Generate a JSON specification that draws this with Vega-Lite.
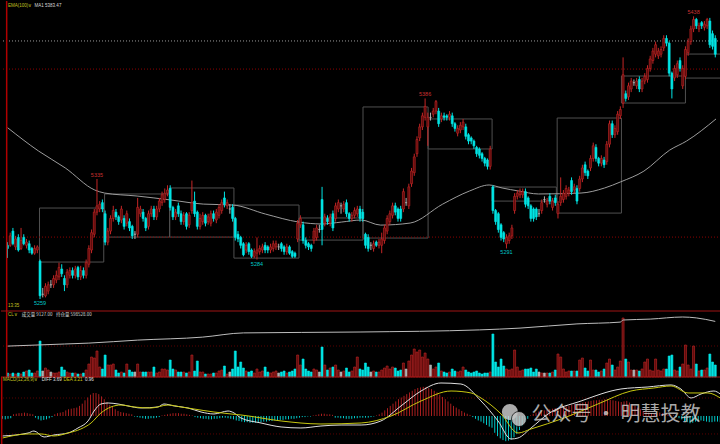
{
"$schema":"https://vega.github.io/schema/vega-lite/v6.json",
"background":"#000000",
"padding":0,
"spacing":0,
"bounds":"flush",
"config":{"view":{"stroke":null},"font":"Liberation Sans"},
"datasets":{
"bars":[
{"k":0,"o":5293,"h":5295,"l":5285,"c":5291,"v":1600,"m":-0.5},
{"k":1,"o":5293,"h":5301,"l":5292,"c":5299,"v":1200,"m":-0.6},
{"k":2,"o":5302,"h":5304,"l":5293,"c":5294,"v":1600,"m":-0.5},
{"k":3,"o":5292,"h":5299,"l":5290,"c":5297,"v":1200,"m":-0.4},
{"k":4,"o":5298,"h":5300,"l":5289,"c":5290,"v":1600,"m":0.3},
{"k":5,"o":5291,"h":5304,"l":5290,"c":5296,"v":1200,"m":0.4},
{"k":6,"o":5298,"h":5300,"l":5293,"c":5294,"v":2000,"m":0.5},
{"k":7,"o":5293,"h":5297,"l":5291,"c":5295,"v":2400,"m":0.5},
{"k":8,"o":5294,"h":5296,"l":5288,"c":5290,"v":2800,"m":0.6},
{"k":9,"o":5291,"h":5292,"l":5287,"c":5288,"v":1600,"m":0.5},
{"k":10,"o":5288,"h":5293,"l":5287,"c":5291,"v":1600,"m":0.4},
{"k":11,"o":5290,"h":5293,"l":5288,"c":5292,"v":2400,"m":0.3},
{"k":12,"o":5283,"h":5284,"l":5259,"c":5261,"v":14400,"m":-0.3},
{"k":13,"o":5262,"h":5266,"l":5260,"c":5262,"v":2400,"m":-0.6},
{"k":14,"o":5261,"h":5269,"l":5260,"c":5267,"v":3600,"m":-0.8},
{"k":15,"o":5264,"h":5270,"l":5262,"c":5268,"v":2800,"m":-0.7},
{"k":16,"o":5268,"h":5271,"l":5266,"c":5268,"v":2000,"m":-0.6},
{"k":17,"o":5268,"h":5274,"l":5266,"c":5272,"v":1600,"m":-0.4},
{"k":18,"o":5271,"h":5277,"l":5269,"c":5274,"v":1600,"m":-0.2},
{"k":19,"o":5273,"h":5282,"l":5271,"c":5279,"v":2000,"m":0.3},
{"k":20,"o":5278,"h":5281,"l":5273,"c":5275,"v":4000,"m":0.5},
{"k":21,"o":5272,"h":5274,"l":5264,"c":5268,"v":2800,"m":0.6},
{"k":22,"o":5268,"h":5278,"l":5266,"c":5276,"v":2000,"m":0.7},
{"k":23,"o":5274,"h":5279,"l":5272,"c":5277,"v":1600,"m":1.0},
{"k":24,"o":5277,"h":5279,"l":5272,"c":5274,"v":1600,"m":1.2},
{"k":25,"o":5274,"h":5280,"l":5272,"c":5278,"v":1600,"m":1.3},
{"k":26,"o":5279,"h":5280,"l":5271,"c":5273,"v":1200,"m":1.4},
{"k":27,"o":5273,"h":5280,"l":5271,"c":5277,"v":1200,"m":1.5},
{"k":28,"o":5277,"h":5279,"l":5272,"c":5274,"v":1600,"m":1.8},
{"k":29,"o":5274,"h":5284,"l":5272,"c":5282,"v":2800,"m":2.2},
{"k":30,"o":5281,"h":5293,"l":5279,"c":5291,"v":5200,"m":2.8},
{"k":31,"o":5290,"h":5303,"l":5288,"c":5301,"v":8000,"m":3.3},
{"k":32,"o":5300,"h":5316,"l":5298,"c":5314,"v":7600,"m":3.8},
{"k":33,"o":5314,"h":5335,"l":5312,"c":5318,"v":10400,"m":4.1},
{"k":34,"o":5316,"h":5321,"l":5314,"c":5319,"v":4000,"m":4.1},
{"k":35,"o":5320,"h":5322,"l":5314,"c":5316,"v":3200,"m":3.9},
{"k":36,"o":5313,"h":5315,"l":5293,"c":5295,"v":8800,"m":3.5},
{"k":37,"o":5295,"h":5304,"l":5293,"c":5302,"v":4800,"m":3.0},
{"k":38,"o":5302,"h":5312,"l":5300,"c":5310,"v":4800,"m":2.5},
{"k":39,"o":5310,"h":5318,"l":5308,"c":5315,"v":5200,"m":2.0},
{"k":40,"o":5314,"h":5316,"l":5309,"c":5311,"v":2800,"m":1.6},
{"k":41,"o":5311,"h":5312,"l":5306,"c":5308,"v":1600,"m":1.2},
{"k":42,"o":5309,"h":5318,"l":5307,"c":5316,"v":2000,"m":0.9},
{"k":43,"o":5310,"h":5312,"l":5303,"c":5305,"v":1600,"m":0.7},
{"k":44,"o":5307,"h":5315,"l":5305,"c":5313,"v":5200,"m":0.6},
{"k":45,"o":5308,"h":5310,"l":5302,"c":5304,"v":2800,"m":0.5},
{"k":46,"o":5305,"h":5306,"l":5297,"c":5299,"v":2000,"m":0.4},
{"k":47,"o":5300,"h":5302,"l":5297,"c":5300,"v":2000,"m":0.3},
{"k":48,"o":5300,"h":5323,"l":5298,"c":5317,"v":5200,"m":-0.1},
{"k":49,"o":5313,"h":5318,"l":5311,"c":5316,"v":2000,"m":-0.2},
{"k":50,"o":5314,"h":5316,"l":5308,"c":5310,"v":2000,"m":-0.3},
{"k":51,"o":5310,"h":5311,"l":5302,"c":5304,"v":2000,"m":-0.4},
{"k":52,"o":5305,"h":5315,"l":5303,"c":5313,"v":2000,"m":-0.5},
{"k":53,"o":5313,"h":5318,"l":5311,"c":5316,"v":2000,"m":-0.5},
{"k":54,"o":5316,"h":5318,"l":5309,"c":5311,"v":4000,"m":-0.4},
{"k":55,"o":5311,"h":5318,"l":5309,"c":5316,"v":1600,"m":-0.4},
{"k":56,"o":5316,"h":5323,"l":5314,"c":5321,"v":2000,"m":-0.3},
{"k":57,"o":5320,"h":5327,"l":5318,"c":5325,"v":3200,"m":-0.2},
{"k":58,"o":5322,"h":5329,"l":5320,"c":5326,"v":3200,"m":0.1},
{"k":59,"o":5326,"h":5331,"l":5324,"c":5328,"v":2800,"m":0.2},
{"k":60,"o":5329,"h":5331,"l":5315,"c":5317,"v":6800,"m":0.3},
{"k":61,"o":5317,"h":5318,"l":5309,"c":5311,"v":3200,"m":0.4},
{"k":62,"o":5311,"h":5316,"l":5309,"c":5314,"v":2800,"m":0.5},
{"k":63,"o":5318,"h":5320,"l":5311,"c":5313,"v":2000,"m":0.5},
{"k":64,"o":5313,"h":5315,"l":5306,"c":5308,"v":2000,"m":0.5},
{"k":65,"o":5308,"h":5314,"l":5306,"c":5312,"v":2000,"m":0.4},
{"k":66,"o":5313,"h":5314,"l":5303,"c":5305,"v":1600,"m":0.4},
{"k":67,"o":5306,"h":5314,"l":5304,"c":5312,"v":2000,"m":0.3},
{"k":68,"o":5315,"h":5334,"l":5313,"c":5320,"v":8800,"m":0.2},
{"k":69,"o":5321,"h":5327,"l":5311,"c":5313,"v":2400,"m":0.1},
{"k":70,"o":5314,"h":5315,"l":5303,"c":5305,"v":6400,"m":-0.2},
{"k":71,"o":5305,"h":5313,"l":5303,"c":5310,"v":2000,"m":-0.3},
{"k":72,"o":5308,"h":5314,"l":5306,"c":5312,"v":2000,"m":-0.4},
{"k":73,"o":5312,"h":5313,"l":5305,"c":5307,"v":1200,"m":-0.5},
{"k":74,"o":5308,"h":5313,"l":5306,"c":5311,"v":1200,"m":-0.5},
{"k":75,"o":5307,"h":5315,"l":5305,"c":5313,"v":1200,"m":-0.6},
{"k":76,"o":5313,"h":5315,"l":5308,"c":5310,"v":1600,"m":-0.6},
{"k":77,"o":5309,"h":5316,"l":5307,"c":5314,"v":1600,"m":-0.5},
{"k":78,"o":5312,"h":5319,"l":5310,"c":5317,"v":2400,"m":-0.5},
{"k":79,"o":5315,"h":5322,"l":5313,"c":5320,"v":2800,"m":-0.4},
{"k":80,"o":5323,"h":5327,"l":5317,"c":5319,"v":4400,"m":-0.3},
{"k":81,"o":5318,"h":5322,"l":5316,"c":5320,"v":1200,"m":-0.3},
{"k":82,"o":5316,"h":5319,"l":5313,"c":5316,"v":2000,"m":-0.4},
{"k":83,"o":5317,"h":5319,"l":5308,"c":5310,"v":3200,"m":-0.5},
{"k":84,"o":5310,"h":5311,"l":5296,"c":5298,"v":10400,"m":-0.6},
{"k":85,"o":5300,"h":5302,"l":5295,"c":5297,"v":4000,"m":-0.8},
{"k":86,"o":5298,"h":5299,"l":5291,"c":5293,"v":6000,"m":-0.9},
{"k":87,"o":5294,"h":5295,"l":5286,"c":5287,"v":3600,"m":-1.0},
{"k":88,"o":5290,"h":5295,"l":5288,"c":5293,"v":2400,"m":-1.1},
{"k":89,"o":5294,"h":5295,"l":5287,"c":5289,"v":2000,"m":-1.1},
{"k":90,"o":5290,"h":5291,"l":5285,"c":5286,"v":2400,"m":-1.2},
{"k":91,"o":5286,"h":5291,"l":5285,"c":5289,"v":1600,"m":-1.2},
{"k":92,"o":5288,"h":5298,"l":5284,"c":5290,"v":3200,"m":-1.2},
{"k":93,"o":5289,"h":5293,"l":5287,"c":5291,"v":2000,"m":-1.1},
{"k":94,"o":5290,"h":5294,"l":5288,"c":5292,"v":2400,"m":-1.1},
{"k":95,"o":5293,"h":5295,"l":5288,"c":5290,"v":4000,"m":-1.0},
{"k":96,"o":5292,"h":5293,"l":5288,"c":5290,"v":2000,"m":-1.0},
{"k":97,"o":5290,"h":5294,"l":5288,"c":5292,"v":1600,"m":-0.9},
{"k":98,"o":5291,"h":5296,"l":5289,"c":5294,"v":2000,"m":-0.9},
{"k":99,"o":5292,"h":5296,"l":5290,"c":5294,"v":2400,"m":-0.8},
{"k":100,"o":5292,"h":5294,"l":5290,"c":5292,"v":1600,"m":-0.8},
{"k":101,"o":5294,"h":5295,"l":5289,"c":5291,"v":2000,"m":-0.7},
{"k":102,"o":5292,"h":5293,"l":5287,"c":5289,"v":2400,"m":-0.7},
{"k":103,"o":5289,"h":5294,"l":5287,"c":5292,"v":1600,"m":-0.6},
{"k":104,"o":5292,"h":5293,"l":5287,"c":5288,"v":2000,"m":-0.6},
{"k":105,"o":5289,"h":5290,"l":5285,"c":5286,"v":2400,"m":-0.5},
{"k":106,"o":5288,"h":5289,"l":5285,"c":5286,"v":3200,"m":-0.5},
{"k":107,"o":5297,"h":5309,"l":5295,"c":5307,"v":8800,"m":-0.4},
{"k":108,"o":5306,"h":5312,"l":5304,"c":5310,"v":4800,"m":-0.3},
{"k":109,"o":5306,"h":5308,"l":5294,"c":5296,"v":7200,"m":-0.2},
{"k":110,"o":5296,"h":5298,"l":5291,"c":5293,"v":3200,"m":-0.2},
{"k":111,"o":5294,"h":5295,"l":5290,"c":5292,"v":2400,"m":-0.1},
{"k":112,"o":5293,"h":5294,"l":5289,"c":5291,"v":2000,"m":-0.1},
{"k":113,"o":5296,"h":5304,"l":5294,"c":5302,"v":3200,"m":0.1},
{"k":114,"o":5298,"h":5306,"l":5296,"c":5304,"v":2800,"m":0.2},
{"k":115,"o":5303,"h":5306,"l":5301,"c":5303,"v":2000,"m":0.3},
{"k":116,"o":5322,"h":5330,"l":5293,"c":5303,"v":12000,"m":0.4},
{"k":117,"o":5307,"h":5313,"l":5305,"c":5311,"v":4800,"m":0.4},
{"k":118,"o":5310,"h":5312,"l":5306,"c":5308,"v":2800,"m":0.3},
{"k":119,"o":5307,"h":5313,"l":5305,"c":5311,"v":3600,"m":0.3},
{"k":120,"o":5313,"h":5315,"l":5302,"c":5304,"v":4000,"m":0.2},
{"k":121,"o":5310,"h":5320,"l":5308,"c":5318,"v":4800,"m":-0.3},
{"k":122,"o":5316,"h":5322,"l":5314,"c":5320,"v":2800,"m":-0.3},
{"k":123,"o":5318,"h":5320,"l":5313,"c":5318,"v":2000,"m":-0.4},
{"k":124,"o":5316,"h":5321,"l":5314,"c":5319,"v":2400,"m":-0.4},
{"k":125,"o":5320,"h":5322,"l":5311,"c":5313,"v":3600,"m":-0.5},
{"k":126,"o":5313,"h":5314,"l":5308,"c":5310,"v":2000,"m":-0.5},
{"k":127,"o":5310,"h":5314,"l":5308,"c":5312,"v":2400,"m":-0.5},
{"k":128,"o":5312,"h":5317,"l":5310,"c":5315,"v":4000,"m":-0.4},
{"k":129,"o":5313,"h":5318,"l":5311,"c":5316,"v":8000,"m":-0.4},
{"k":130,"o":5316,"h":5318,"l":5308,"c":5310,"v":3200,"m":-0.3},
{"k":131,"o":5314,"h":5316,"l":5308,"c":5310,"v":2800,"m":-0.3},
{"k":132,"o":5300,"h":5301,"l":5291,"c":5293,"v":5600,"m":-0.3},
{"k":133,"o":5298,"h":5300,"l":5289,"c":5291,"v":4000,"m":-0.3},
{"k":134,"o":5293,"h":5295,"l":5290,"c":5293,"v":2000,"m":-0.2},
{"k":135,"o":5291,"h":5296,"l":5289,"c":5294,"v":2400,"m":-0.1},
{"k":136,"o":5295,"h":5296,"l":5292,"c":5293,"v":2000,"m":0.1},
{"k":137,"o":5293,"h":5297,"l":5291,"c":5295,"v":2000,"m":0.3},
{"k":138,"o":5293,"h":5301,"l":5288,"c":5297,"v":2800,"m":0.6},
{"k":139,"o":5296,"h":5306,"l":5294,"c":5304,"v":3600,"m":1.0},
{"k":140,"o":5302,"h":5312,"l":5300,"c":5310,"v":4400,"m":1.4},
{"k":141,"o":5308,"h":5315,"l":5306,"c":5313,"v":3200,"m":1.8},
{"k":142,"o":5312,"h":5320,"l":5310,"c":5318,"v":4000,"m":2.2},
{"k":143,"o":5318,"h":5320,"l":5312,"c":5314,"v":3600,"m":2.6},
{"k":144,"o":5316,"h":5317,"l":5308,"c":5310,"v":2400,"m":3.0},
{"k":145,"o":5316,"h":5318,"l":5308,"c":5310,"v":2800,"m":3.3},
{"k":146,"o":5316,"h":5329,"l":5314,"c":5327,"v":5600,"m":3.6},
{"k":147,"o":5320,"h":5323,"l":5318,"c":5320,"v":3200,"m":3.9},
{"k":148,"o":5318,"h":5332,"l":5316,"c":5330,"v":6400,"m":4.2},
{"k":149,"o":5332,"h":5342,"l":5330,"c":5340,"v":8800,"m":4.5},
{"k":150,"o":5339,"h":5351,"l":5337,"c":5349,"v":11200,"m":4.8},
{"k":151,"o":5351,"h":5362,"l":5349,"c":5360,"v":10000,"m":5.0},
{"k":152,"o":5361,"h":5370,"l":5359,"c":5368,"v":10800,"m":5.1},
{"k":153,"o":5368,"h":5377,"l":5366,"c":5375,"v":8000,"m":5.2},
{"k":154,"o":5374,"h":5386,"l":5372,"c":5381,"v":9600,"m":5.2},
{"k":155,"o":5368,"h":5377,"l":5356,"c":5374,"v":7200,"m":5.0},
{"k":156,"o":5374,"h":5377,"l":5372,"c":5374,"v":4800,"m":4.8},
{"k":157,"o":5376,"h":5380,"l":5374,"c":5378,"v":3200,"m":4.5},
{"k":158,"o":5378,"h":5385,"l":5376,"c":5384,"v":4000,"m":4.2},
{"k":159,"o":5378,"h":5380,"l":5368,"c":5370,"v":5600,"m":3.8},
{"k":160,"o":5373,"h":5377,"l":5371,"c":5375,"v":2400,"m":3.4},
{"k":161,"o":5375,"h":5377,"l":5372,"c":5374,"v":2000,"m":3.0},
{"k":162,"o":5375,"h":5376,"l":5372,"c":5374,"v":1600,"m":2.6},
{"k":163,"o":5374,"h":5378,"l":5372,"c":5376,"v":2000,"m":2.2},
{"k":164,"o":5375,"h":5377,"l":5368,"c":5370,"v":3200,"m":1.8},
{"k":165,"o":5370,"h":5371,"l":5365,"c":5367,"v":2400,"m":1.5},
{"k":166,"o":5364,"h":5369,"l":5362,"c":5367,"v":2000,"m":1.2},
{"k":167,"o":5366,"h":5371,"l":5364,"c":5369,"v":2400,"m":0.9},
{"k":168,"o":5368,"h":5373,"l":5366,"c":5371,"v":4000,"m":0.6},
{"k":169,"o":5368,"h":5370,"l":5360,"c":5362,"v":2800,"m":0.4},
{"k":170,"o":5363,"h":5364,"l":5357,"c":5359,"v":2000,"m":0.2},
{"k":171,"o":5361,"h":5362,"l":5357,"c":5359,"v":1600,"m":-0.2},
{"k":172,"o":5359,"h":5360,"l":5354,"c":5356,"v":2000,"m":-0.5},
{"k":173,"o":5355,"h":5356,"l":5349,"c":5351,"v":2400,"m":-0.8},
{"k":174,"o":5354,"h":5355,"l":5348,"c":5350,"v":1600,"m":-1.0},
{"k":175,"o":5351,"h":5352,"l":5346,"c":5348,"v":1200,"m":-1.3},
{"k":176,"o":5348,"h":5349,"l":5343,"c":5345,"v":1600,"m":-1.6},
{"k":177,"o":5347,"h":5348,"l":5341,"c":5343,"v":1600,"m":-1.9},
{"k":178,"o":5343,"h":5356,"l":5341,"c":5354,"v":2000,"m":-2.1},
{"k":179,"o":5330,"h":5331,"l":5313,"c":5315,"v":17200,"m":-3.0},
{"k":180,"o":5315,"h":5316,"l":5306,"c":5308,"v":6000,"m":-3.6},
{"k":181,"o":5313,"h":5314,"l":5301,"c":5303,"v":4000,"m":-4.0},
{"k":182,"o":5306,"h":5307,"l":5296,"c":5298,"v":7200,"m":-4.3},
{"k":183,"o":5301,"h":5302,"l":5295,"c":5297,"v":4400,"m":-4.5},
{"k":184,"o":5294,"h":5300,"l":5291,"c":5298,"v":3200,"m":-4.4},
{"k":185,"o":5296,"h":5301,"l":5294,"c":5299,"v":2800,"m":-4.2},
{"k":186,"o":5299,"h":5306,"l":5297,"c":5304,"v":3200,"m":-3.8},
{"k":187,"o":5315,"h":5326,"l":5313,"c":5324,"v":10800,"m":-3.2},
{"k":188,"o":5324,"h":5328,"l":5322,"c":5326,"v":4000,"m":-2.5},
{"k":189,"o":5325,"h":5329,"l":5323,"c":5327,"v":2400,"m":-1.8},
{"k":190,"o":5325,"h":5329,"l":5323,"c":5327,"v":2800,"m":-1.1},
{"k":191,"o":5327,"h":5329,"l":5317,"c":5319,"v":3200,"m":-0.5},
{"k":192,"o":5323,"h":5324,"l":5316,"c":5318,"v":3200,"m":0.1},
{"k":193,"o":5318,"h":5319,"l":5308,"c":5310,"v":3600,"m":0.4},
{"k":194,"o":5316,"h":5317,"l":5308,"c":5310,"v":2000,"m":0.6},
{"k":195,"o":5316,"h":5317,"l":5309,"c":5311,"v":3200,"m":0.8},
{"k":196,"o":5313,"h":5316,"l":5311,"c":5313,"v":2000,"m":0.9},
{"k":197,"o":5315,"h":5322,"l":5313,"c":5320,"v":1600,"m":1.0},
{"k":198,"o":5322,"h":5324,"l":5320,"c":5322,"v":1600,"m":1.1},
{"k":199,"o":5319,"h":5323,"l":5317,"c":5321,"v":1600,"m":1.2},
{"k":200,"o":5324,"h":5326,"l":5319,"c":5321,"v":1600,"m":1.3},
{"k":201,"o":5317,"h":5323,"l":5315,"c":5321,"v":2000,"m":1.4},
{"k":202,"o":5323,"h":5325,"l":5318,"c":5320,"v":2800,"m":1.4},
{"k":203,"o":5313,"h":5321,"l":5310,"c":5319,"v":9200,"m":1.5},
{"k":204,"o":5320,"h":5336,"l":5318,"c":5324,"v":8000,"m":1.6},
{"k":205,"o":5322,"h":5328,"l":5320,"c":5326,"v":3200,"m":1.7},
{"k":206,"o":5324,"h":5331,"l":5322,"c":5329,"v":2000,"m":1.8},
{"k":207,"o":5326,"h":5330,"l":5324,"c":5328,"v":2400,"m":2.0},
{"k":208,"o":5334,"h":5336,"l":5325,"c":5327,"v":2400,"m":2.1},
{"k":209,"o":5328,"h":5332,"l":5326,"c":5330,"v":2400,"m":2.2},
{"k":210,"o":5329,"h":5331,"l":5319,"c":5321,"v":2400,"m":2.3},
{"k":211,"o":5329,"h":5337,"l":5327,"c":5335,"v":6800,"m":2.4},
{"k":212,"o":5335,"h":5344,"l":5333,"c":5342,"v":7600,"m":2.5},
{"k":213,"o":5344,"h":5346,"l":5337,"c":5339,"v":3600,"m":2.6},
{"k":214,"o":5340,"h":5341,"l":5335,"c":5337,"v":2400,"m":2.7},
{"k":215,"o":5342,"h":5350,"l":5340,"c":5348,"v":6800,"m":2.8},
{"k":216,"o":5348,"h":5358,"l":5346,"c":5356,"v":2800,"m":2.8},
{"k":217,"o":5355,"h":5357,"l":5346,"c":5348,"v":2800,"m":2.9},
{"k":218,"o":5348,"h":5349,"l":5343,"c":5345,"v":2000,"m":2.9},
{"k":219,"o":5345,"h":5350,"l":5343,"c":5348,"v":2400,"m":3.0},
{"k":220,"o":5347,"h":5349,"l":5342,"c":5344,"v":3200,"m":3.0},
{"k":221,"o":5346,"h":5359,"l":5344,"c":5357,"v":5600,"m":2.9},
{"k":222,"o":5357,"h":5372,"l":5355,"c":5370,"v":7200,"m":2.8},
{"k":223,"o":5370,"h":5372,"l":5361,"c":5363,"v":4800,"m":2.7},
{"k":224,"o":5363,"h":5369,"l":5361,"c":5367,"v":2800,"m":2.6},
{"k":225,"o":5365,"h":5378,"l":5363,"c":5376,"v":4000,"m":2.5},
{"k":226,"o":5375,"h":5381,"l":5373,"c":5379,"v":6400,"m":2.6},
{"k":227,"o":5383,"h":5412,"l":5380,"c":5401,"v":23600,"m":2.7},
{"k":228,"o":5389,"h":5391,"l":5384,"c":5386,"v":7200,"m":2.4},
{"k":229,"o":5387,"h":5396,"l":5385,"c":5394,"v":6000,"m":2.1},
{"k":230,"o":5392,"h":5399,"l":5390,"c":5397,"v":2800,"m":1.8},
{"k":231,"o":5396,"h":5398,"l":5394,"c":5396,"v":2800,"m":1.5},
{"k":232,"o":5394,"h":5399,"l":5392,"c":5397,"v":2800,"m":1.2},
{"k":233,"o":5398,"h":5400,"l":5390,"c":5392,"v":2400,"m":0.9},
{"k":234,"o":5392,"h":5399,"l":5390,"c":5397,"v":3200,"m":0.7},
{"k":235,"o":5397,"h":5402,"l":5395,"c":5400,"v":6000,"m":0.6},
{"k":236,"o":5398,"h":5407,"l":5396,"c":5405,"v":7200,"m":0.5},
{"k":237,"o":5405,"h":5413,"l":5403,"c":5411,"v":2800,"m":0.4},
{"k":238,"o":5410,"h":5418,"l":5408,"c":5416,"v":2400,"m":0.5},
{"k":239,"o":5414,"h":5422,"l":5412,"c":5420,"v":7200,"m":0.6},
{"k":240,"o":5413,"h":5418,"l":5411,"c":5416,"v":2800,"m":0.5},
{"k":241,"o":5414,"h":5419,"l":5412,"c":5417,"v":2400,"m":0.4},
{"k":242,"o":5418,"h":5426,"l":5416,"c":5424,"v":3200,"m":0.3},
{"k":243,"o":5424,"h":5426,"l":5419,"c":5421,"v":3200,"m":0.2},
{"k":244,"o":5421,"h":5422,"l":5400,"c":5402,"v":8400,"m":0.1},
{"k":245,"o":5402,"h":5403,"l":5386,"c":5392,"v":8800,"m":-0.2},
{"k":246,"o":5399,"h":5407,"l":5397,"c":5405,"v":2800,"m":-0.4},
{"k":247,"o":5401,"h":5410,"l":5399,"c":5408,"v":2400,"m":-0.6},
{"k":248,"o":5410,"h":5412,"l":5403,"c":5405,"v":4000,"m":-0.9},
{"k":249,"o":5394,"h":5407,"l":5392,"c":5405,"v":5200,"m":-1.1},
{"k":250,"o":5400,"h":5419,"l":5398,"c":5417,"v":12800,"m":-1.3},
{"k":251,"o":5415,"h":5424,"l":5413,"c":5422,"v":4800,"m":-1.2},
{"k":252,"o":5422,"h":5432,"l":5420,"c":5430,"v":3200,"m":-1.0},
{"k":253,"o":5430,"h":5438,"l":5428,"c":5436,"v":12400,"m":-0.9},
{"k":254,"o":5436,"h":5437,"l":5430,"c":5432,"v":5200,"m":-0.8},
{"k":255,"o":5430,"h":5434,"l":5428,"c":5432,"v":2400,"m":-0.9},
{"k":256,"o":5434,"h":5435,"l":5430,"c":5432,"v":2800,"m":-1.0},
{"k":257,"o":5431,"h":5435,"l":5429,"c":5433,"v":2800,"m":-1.1},
{"k":258,"o":5432,"h":5437,"l":5430,"c":5436,"v":3600,"m":-1.1},
{"k":259,"o":5435,"h":5437,"l":5418,"c":5420,"v":9200,"m":-1.0},
{"k":260,"o":5427,"h":5429,"l":5417,"c":5419,"v":6000,"m":-1.0},
{"k":261,"o":5424,"h":5426,"l":5412,"c":5414,"v":4800,"m":-1.1}
],
"ema":[{"k":0,"e":5367.5},{"k":11.45,"e":5352.7},{"k":21.3,"e":5342.0},{"k":32.2,"e":5328.0},{"k":35.8,"e":5326.1},{"k":47.8,"e":5324.2},{"k":60.2,"e":5321.7},{"k":72.2,"e":5319.1},{"k":83.1,"e":5318.5},{"k":95.1,"e":5312.8},{"k":107.5,"e":5307.7},{"k":115.8,"e":5306.5},{"k":123.1,"e":5307.7},{"k":130.4,"e":5309.0},{"k":137.6,"e":5305.8},{"k":148.5,"e":5307.1},{"k":160.5,"e":5319.1},{"k":170.4,"e":5327.4},{"k":177.6,"e":5331.2},{"k":182.4,"e":5329.3},{"k":188.5,"e":5327.4},{"k":195.8,"e":5325.5},{"k":211.5,"e":5326.1},{"k":220.2,"e":5329.3},{"k":226,"e":5333.1},{"k":234.7,"e":5340.0},{"k":244.2,"e":5353.3},{"k":250.4,"e":5359.0},{"k":261.27,"e":5373.0}],
"oi":[{"k":0,"oi":590300},{"k":21,"oi":591000},{"k":30,"oi":591300},{"k":48,"oi":592300},{"k":72,"oi":593300},{"k":87,"oi":594700},{"k":130,"oi":595000},{"k":174,"oi":595700},{"k":189,"oi":596300},{"k":210,"oi":597700},{"k":226,"oi":598300},{"k":227,"oi":599000},{"k":237,"oi":599300},{"k":249,"oi":600000},{"k":254,"oi":599700},{"k":261,"oi":598528}],
"dif":[{"k":0,"d":-3.57},{"k":9.3,"d":-3.04},{"k":11.45,"d":-2.68},{"k":15.1,"d":-3.75},{"k":18.7,"d":-3.39},{"k":23.8,"d":-3.04},{"k":27.45,"d":-2.14},{"k":31.1,"d":-0.89},{"k":33.3,"d":0.89},{"k":35.8,"d":2.14},{"k":38.4,"d":2.32},{"k":42,"d":2.14},{"k":45.6,"d":1.79},{"k":50.4,"d":1.43},{"k":56.5,"d":1.61},{"k":58.7,"d":2.14},{"k":62.4,"d":1.79},{"k":67.45,"d":1.43},{"k":72.2,"d":0.71},{"k":76.9,"d":0.36},{"k":82,"d":0.89},{"k":84.2,"d":0.54},{"k":86.7,"d":-0.36},{"k":94,"d":-1.25},{"k":101.3,"d":-1.96},{"k":108.5,"d":-2.14},{"k":115.8,"d":-1.79},{"k":123.1,"d":-1.61},{"k":130.4,"d":-1.61},{"k":137.6,"d":-0.89},{"k":144.9,"d":1.79},{"k":152.2,"d":4.46},{"k":159.45,"d":5.89},{"k":166.7,"d":5.71},{"k":174,"d":2.68},{"k":180.2,"d":-0.89},{"k":184.9,"d":-4.11},{"k":187.45,"d":-3.93},{"k":192.2,"d":-2.14},{"k":198.4,"d":0.36},{"k":210.4,"d":2.68},{"k":224.9,"d":4.82},{"k":234.7,"d":5.18},{"k":243.1,"d":5.54},{"k":246.7,"d":4.82},{"k":250.4,"d":3.21},{"k":254,"d":3.93},{"k":258.7,"d":4.46},{"k":261,"d":3.93}],
"dea":[{"k":0,"d":-3.93},{"k":9.3,"d":-3.21},{"k":14,"d":-3.21},{"k":18.7,"d":-3.57},{"k":23.8,"d":-3.04},{"k":28.5,"d":-2.32},{"k":32.2,"d":-1.25},{"k":35.8,"d":0.54},{"k":39.45,"d":1.61},{"k":43.1,"d":1.96},{"k":47.8,"d":1.61},{"k":54,"d":1.43},{"k":60.2,"d":1.96},{"k":64.9,"d":1.61},{"k":69.6,"d":1.25},{"k":76.9,"d":0.71},{"k":83.1,"d":0.36},{"k":86.7,"d":0.18},{"k":101.3,"d":-0.89},{"k":115.8,"d":-1.43},{"k":130.4,"d":-1.25},{"k":141.3,"d":0},{"k":152.2,"d":2.68},{"k":163.1,"d":4.46},{"k":170.4,"d":4.11},{"k":174,"d":3.21},{"k":181.3,"d":0.36},{"k":187.45,"d":-3.04},{"k":192.2,"d":-2.32},{"k":204.2,"d":-0.36},{"k":216.5,"d":2.14},{"k":228.5,"d":4.46},{"k":236.9,"d":5.0},{"k":243.1,"d":5.36},{"k":249.3,"d":4.11},{"k":256.5,"d":4.11},{"k":261,"d":3.21}],
"boxes":[{"k1":11.8,"k2":35.5,"p1":5282.4,"p2":5316.6},{"k1":35.8,"k2":59.8,"p1":5298.2,"p2":5325.5},{"k1":59.8,"k2":83.5,"p1":5298.2,"p2":5329.3},{"k1":83.5,"k2":107.5,"p1":5284.9,"p2":5318.5},{"k1":107.5,"k2":131.1,"p1":5296.3,"p2":5310.3},{"k1":131.1,"k2":155.1,"p1":5297.6,"p2":5380.6},{"k1":155.1,"k2":178.7,"p1":5354.0,"p2":5373.0},{"k1":178.7,"k2":202.4,"p1":5321.0,"p2":5329.9},{"k1":202.7,"k2":226.4,"p1":5313.4,"p2":5373.6},{"k1":226.4,"k2":250.0,"p1":5383.1,"p2":5400.2},{"k1":250.0,"k2":263,"p1":5398.9,"p2":5414.1}],
"peaks":[{"k":12,"p":5259,"t":"5259","s":"l"},{"k":33,"p":5335,"t":"5335","s":"h"},{"k":92,"p":5284,"t":"5284","s":"l"},{"k":154,"p":5386,"t":"5386","s":"h"},{"k":184,"p":5291,"t":"5291","s":"l"},{"k":253,"p":5438,"t":"5438","s":"h"}]
},
"vconcat":[
{
"width":720,"height":310,
"layer":[
{"data":{"name":"boxes"},"mark":{"type":"rect","fill":"transparent","stroke":"#505050","strokeWidth":1,"clip":true},
 "encoding":{"x":{"field":"k1","type":"quantitative","scale":{"domain":[-0.55,261.27],"nice":false,"zero":false},"axis":null},"x2":{"field":"k2"},
 "y":{"field":"p1","type":"quantitative","scale":{"domain":[5251.4,5447.7],"nice":false,"zero":false},"axis":null},"y2":{"field":"p2"}}},
{"data":{"values":[{}]},"mark":{"type":"rule","stroke":"#9a9a9a","strokeDash":[1,2],"strokeWidth":1},
 "encoding":{"y":{"datum":5422.4,"type":"quantitative","scale":{"domain":[5251.4,5447.7],"nice":false,"zero":false},"axis":null}}},
{"data":{"values":[{}]},"mark":{"type":"rule","stroke":"#8a0000","strokeDash":[1,2],"strokeWidth":1},
 "encoding":{"y":{"datum":5404.6,"type":"quantitative","scale":{"domain":[5251.4,5447.7],"nice":false,"zero":false},"axis":null}}},
{"data":{"values":[{}]},"mark":{"type":"rule","stroke":"#8a0000","strokeDash":[1,2],"strokeWidth":1},
 "encoding":{"y":{"datum":5298.2,"type":"quantitative","scale":{"domain":[5251.4,5447.7],"nice":false,"zero":false},"axis":null}}},
{"data":{"name":"ema"},"mark":{"type":"line","interpolate":"monotone","stroke":"#9c9c9c","strokeWidth":1,"clip":true},
 "encoding":{"x":{"field":"k","type":"quantitative","scale":{"domain":[-0.55,261.27],"nice":false,"zero":false},"axis":null},
 "y":{"field":"e","type":"quantitative","scale":{"domain":[5251.4,5447.7],"nice":false,"zero":false},"axis":null}}},
{"data":{"name":"bars"},"mark":{"type":"rule","strokeWidth":1},
 "encoding":{"x":{"field":"k","type":"quantitative","scale":{"domain":[-0.55,261.27],"nice":false,"zero":false},"axis":null},
 "y":{"field":"l","type":"quantitative","scale":{"domain":[5251.4,5447.7],"nice":false,"zero":false},"axis":null},"y2":{"field":"h"},
 "color":{"condition":[{"test":"datum.c > datum.o","value":"#c42626"},{"test":"datum.c < datum.o","value":"#00e5e5"}],"value":"#b0b0b0"}}},
{"data":{"name":"bars"},"mark":{"type":"bar","size":2,"strokeWidth":0.6},
 "encoding":{"x":{"field":"k","type":"quantitative","scale":{"domain":[-0.55,261.27],"nice":false,"zero":false},"axis":null},
 "y":{"field":"o","type":"quantitative","scale":{"domain":[5251.4,5447.7],"nice":false,"zero":false},"axis":null},"y2":{"field":"c"},
 "fill":{"condition":[{"test":"datum.c > datum.o","value":"#5e0c0c"},{"test":"datum.c < datum.o","value":"#00e5e5"}],"value":"#b0b0b0"},
 "stroke":{"condition":[{"test":"datum.c > datum.o","value":"#c42626"},{"test":"datum.c < datum.o","value":"#00e5e5"}],"value":"#b0b0b0"}}},
{"data":{"name":"peaks"},"transform":[{"filter":"datum.s == 'h'"}],"mark":{"type":"text","fontSize":5.5,"baseline":"bottom","dy":-1,"fill":"#c83030"},
 "encoding":{"x":{"field":"k","type":"quantitative","scale":{"domain":[-0.55,261.27],"nice":false,"zero":false},"axis":null},
 "y":{"field":"p","type":"quantitative","scale":{"domain":[5251.4,5447.7],"nice":false,"zero":false},"axis":null},"text":{"field":"t"}}},
{"data":{"name":"peaks"},"transform":[{"filter":"datum.s == 'l'"}],"mark":{"type":"text","fontSize":5.5,"baseline":"top","dy":2,"fill":"#00c8c8"},
 "encoding":{"x":{"field":"k","type":"quantitative","scale":{"domain":[-0.55,261.27],"nice":false,"zero":false},"axis":null},
 "y":{"field":"p","type":"quantitative","scale":{"domain":[5251.4,5447.7],"nice":false,"zero":false},"axis":null},"text":{"field":"t"}}},
{"data":{"values":[{}]},"mark":{"type":"text","text":"EMA(100)∨","align":"left","baseline":"middle","fontSize":4.5,"fill":"#c0c020"},
 "encoding":{"x":{"datum":0.2,"type":"quantitative","scale":{"domain":[-0.55,261.27],"nice":false,"zero":false},"axis":null},
 "y":{"datum":5444.5,"type":"quantitative","scale":{"domain":[5251.4,5447.7],"nice":false,"zero":false},"axis":null}}},
{"data":{"values":[{}]},"mark":{"type":"text","text":"MA1 5383.47","align":"left","baseline":"middle","fontSize":4.5,"fill":"#d8d8d8"},
 "encoding":{"x":{"datum":10,"type":"quantitative","scale":{"domain":[-0.55,261.27],"nice":false,"zero":false},"axis":null},
 "y":{"datum":5444.5,"type":"quantitative","scale":{"domain":[5251.4,5447.7],"nice":false,"zero":false},"axis":null}}},
{"data":{"values":[{}]},"mark":{"type":"text","text":"13:35","align":"left","baseline":"middle","fontSize":4.5,"fill":"#c0c020"},
 "encoding":{"x":{"datum":0.2,"type":"quantitative","scale":{"domain":[-0.55,261.27],"nice":false,"zero":false},"axis":null},
 "y":{"datum":5254.5,"type":"quantitative","scale":{"domain":[5251.4,5447.7],"nice":false,"zero":false},"axis":null}}},
{"data":{"values":[{}]},"mark":{"type":"rule","stroke":"#b00000","strokeWidth":1.5},
 "encoding":{"x":{"datum":-0.3,"type":"quantitative","scale":{"domain":[-0.55,261.27],"nice":false,"zero":false},"axis":null}}}
]
},
{
"width":720,"height":66,
"resolve":{"scale":{"y":"independent"}},
"layer":[
{"data":{"values":[{}]},"mark":{"type":"rule","stroke":"#5a0000","strokeDash":[1,2],"strokeWidth":1},
 "encoding":{"y":{"datum":12400,"type":"quantitative","scale":{"domain":[0,26400],"nice":false},"axis":null}}},
{"data":{"name":"bars"},"mark":{"type":"bar","size":2,"strokeWidth":0.6},
 "encoding":{"x":{"field":"k","type":"quantitative","scale":{"domain":[-0.55,261.27],"nice":false,"zero":false},"axis":null},
 "y":{"field":"v","type":"quantitative","scale":{"domain":[0,26400],"nice":false},"axis":null},
 "fill":{"condition":[{"test":"datum.c > datum.o","value":"#5e0c0c"},{"test":"datum.c < datum.o","value":"#00e5e5"}],"value":"#b0b0b0"},
 "stroke":{"condition":[{"test":"datum.c > datum.o","value":"#c42626"},{"test":"datum.c < datum.o","value":"#00e5e5"}],"value":"#b0b0b0"}}},
{"data":{"name":"oi"},"mark":{"type":"line","interpolate":"monotone","stroke":"#bdbdbd","strokeWidth":1},
 "encoding":{"x":{"field":"k","type":"quantitative","scale":{"domain":[-0.55,261.27],"nice":false,"zero":false},"axis":null},
 "y":{"field":"oi","type":"quantitative","scale":{"domain":[580000,602000],"nice":false,"zero":false},"axis":null}}},
{"data":{"values":[{}]},"mark":{"type":"rule","stroke":"#a01414","strokeWidth":1.2},
 "encoding":{"y":{"datum":26400,"type":"quantitative","scale":{"domain":[0,26400],"nice":false},"axis":null}}},
{"data":{"values":[{}]},"mark":{"type":"text","text":"CL∨","align":"left","baseline":"middle","fontSize":4.5,"fill":"#c0c020"},
 "encoding":{"x":{"datum":0.2,"type":"quantitative","scale":{"domain":[-0.55,261.27],"nice":false,"zero":false},"axis":null},
 "y":{"datum":25000,"type":"quantitative","scale":{"domain":[0,26400],"nice":false},"axis":null}}},
{"data":{"values":[{}]},"mark":{"type":"text","text":"成交量 9127.00","align":"left","baseline":"middle","fontSize":4.5,"fill":"#d8d8d8","font":"Noto Sans CJK SC"},
 "encoding":{"x":{"datum":5.3,"type":"quantitative","scale":{"domain":[-0.55,261.27],"nice":false,"zero":false},"axis":null},
 "y":{"datum":25000,"type":"quantitative","scale":{"domain":[0,26400],"nice":false},"axis":null}}},
{"data":{"values":[{}]},"mark":{"type":"text","text":"持仓量 598528.00","align":"left","baseline":"middle","fontSize":4.5,"fill":"#d8d8d8","font":"Noto Sans CJK SC"},
 "encoding":{"x":{"datum":17.9,"type":"quantitative","scale":{"domain":[-0.55,261.27],"nice":false,"zero":false},"axis":null},
 "y":{"datum":25000,"type":"quantitative","scale":{"domain":[0,26400],"nice":false},"axis":null}}},
{"data":{"values":[{}]},"mark":{"type":"rule","stroke":"#b00000","strokeWidth":1.5},
 "encoding":{"x":{"datum":-0.3,"type":"quantitative","scale":{"domain":[-0.55,261.27],"nice":false,"zero":false},"axis":null}}}
]
},
{
"width":720,"height":68,
"layer":[
{"data":{"values":[{}]},"mark":{"type":"rule","stroke":"#a01414","strokeWidth":1.2},
 "encoding":{"y":{"datum":6.96,"type":"quantitative","scale":{"domain":[-5.18,6.96],"nice":false,"zero":false},"axis":null}}},
{"data":{"values":[{}]},"mark":{"type":"rule","stroke":"#5a0000","strokeDash":[1,2],"strokeWidth":1},
 "encoding":{"y":{"datum":3.21,"type":"quantitative","scale":{"domain":[-5.18,6.96],"nice":false,"zero":false},"axis":null}}},
{"data":{"values":[{}]},"mark":{"type":"rule","stroke":"#5a0000","strokeDash":[1,2],"strokeWidth":1},
 "encoding":{"y":{"datum":-3.21,"type":"quantitative","scale":{"domain":[-5.18,6.96],"nice":false,"zero":false},"axis":null}}},
{"data":{"name":"bars"},"mark":{"type":"rule","strokeWidth":1},
 "encoding":{"x":{"field":"k","type":"quantitative","scale":{"domain":[-0.55,261.27],"nice":false,"zero":false},"axis":null},
 "y":{"field":"m","type":"quantitative","scale":{"domain":[-5.18,6.96],"nice":false,"zero":false},"axis":null},"y2":{"datum":0},
 "color":{"condition":{"test":"datum.m > 0","value":"#a81e1e"},"value":"#00c8c8"}}},
{"data":{"name":"dif"},"mark":{"type":"line","interpolate":"monotone","stroke":"#e0e0e0","strokeWidth":1},
 "encoding":{"x":{"field":"k","type":"quantitative","scale":{"domain":[-0.55,261.27],"nice":false,"zero":false},"axis":null},
 "y":{"field":"d","type":"quantitative","scale":{"domain":[-5.18,6.96],"nice":false,"zero":false},"axis":null}}},
{"data":{"name":"dea"},"mark":{"type":"line","interpolate":"monotone","stroke":"#c8c810","strokeWidth":1},
 "encoding":{"x":{"field":"k","type":"quantitative","scale":{"domain":[-0.55,261.27],"nice":false,"zero":false},"axis":null},
 "y":{"field":"d","type":"quantitative","scale":{"domain":[-5.18,6.96],"nice":false,"zero":false},"axis":null}}},
{"data":{"values":[{}]},"mark":{"type":"text","text":"MACD(12,26,9)∨","align":"left","baseline":"middle","fontSize":4.5,"fill":"#c0c020"},
 "encoding":{"x":{"datum":0.2,"type":"quantitative","scale":{"domain":[-0.55,261.27],"nice":false,"zero":false},"axis":null},
 "y":{"datum":6.4,"type":"quantitative","scale":{"domain":[-5.18,6.96],"nice":false,"zero":false},"axis":null}}},
{"data":{"values":[{}]},"mark":{"type":"text","text":"DIFF 3.69","align":"left","baseline":"middle","fontSize":4.5,"fill":"#e0e0e0"},
 "encoding":{"x":{"datum":14.3,"type":"quantitative","scale":{"domain":[-0.55,261.27],"nice":false,"zero":false},"axis":null},
 "y":{"datum":6.4,"type":"quantitative","scale":{"domain":[-5.18,6.96],"nice":false,"zero":false},"axis":null}}},
{"data":{"values":[{}]},"mark":{"type":"text","text":"DEA 3.21","align":"left","baseline":"middle","fontSize":4.5,"fill":"#c8c810"},
 "encoding":{"x":{"datum":22.2,"type":"quantitative","scale":{"domain":[-0.55,261.27],"nice":false,"zero":false},"axis":null},
 "y":{"datum":6.4,"type":"quantitative","scale":{"domain":[-5.18,6.96],"nice":false,"zero":false},"axis":null}}},
{"data":{"values":[{}]},"mark":{"type":"text","text":"0.96","align":"left","baseline":"middle","fontSize":4.5,"fill":"#e0e0e0"},
 "encoding":{"x":{"datum":30,"type":"quantitative","scale":{"domain":[-0.55,261.27],"nice":false,"zero":false},"axis":null},
 "y":{"datum":6.4,"type":"quantitative","scale":{"domain":[-5.18,6.96],"nice":false,"zero":false},"axis":null}}},
{"data":{"values":[{}]},"mark":{"type":"point","filled":true,"size":254,"fill":"#d4d4d4","opacity":0.8},
 "encoding":{"x":{"datum":184.5,"type":"quantitative","scale":{"domain":[-0.55,261.27],"nice":false,"zero":false},"axis":null},
 "y":{"datum":0.71,"type":"quantitative","scale":{"domain":[-5.18,6.96],"nice":false,"zero":false},"axis":null}}},
{"data":{"values":[{}]},"mark":{"type":"point","filled":true,"size":227,"fill":"#c4c4c4","opacity":0.85,"stroke":"#000000","strokeWidth":0.8},
 "encoding":{"x":{"datum":187.8,"type":"quantitative","scale":{"domain":[-0.55,261.27],"nice":false,"zero":false},"axis":null},
 "y":{"datum":-0.54,"type":"quantitative","scale":{"domain":[-5.18,6.96],"nice":false,"zero":false},"axis":null}}},
{"data":{"values":[{}]},"mark":{"type":"text","text":"公众号 · 明慧投教","align":"center","baseline":"middle","fontSize":20,"fill":"#d4d4d4","opacity":0.8,"font":"Noto Sans CJK SC"},
 "encoding":{"x":{"datum":223.1,"type":"quantitative","scale":{"domain":[-0.55,261.27],"nice":false,"zero":false},"axis":null},
 "y":{"datum":0.18,"type":"quantitative","scale":{"domain":[-5.18,6.96],"nice":false,"zero":false},"axis":null}}},
{"data":{"values":[{}]},"mark":{"type":"rule","stroke":"#b00000","strokeWidth":1.5},
 "encoding":{"x":{"datum":-0.3,"type":"quantitative","scale":{"domain":[-0.55,261.27],"nice":false,"zero":false},"axis":null}}}
]
}
]
}
